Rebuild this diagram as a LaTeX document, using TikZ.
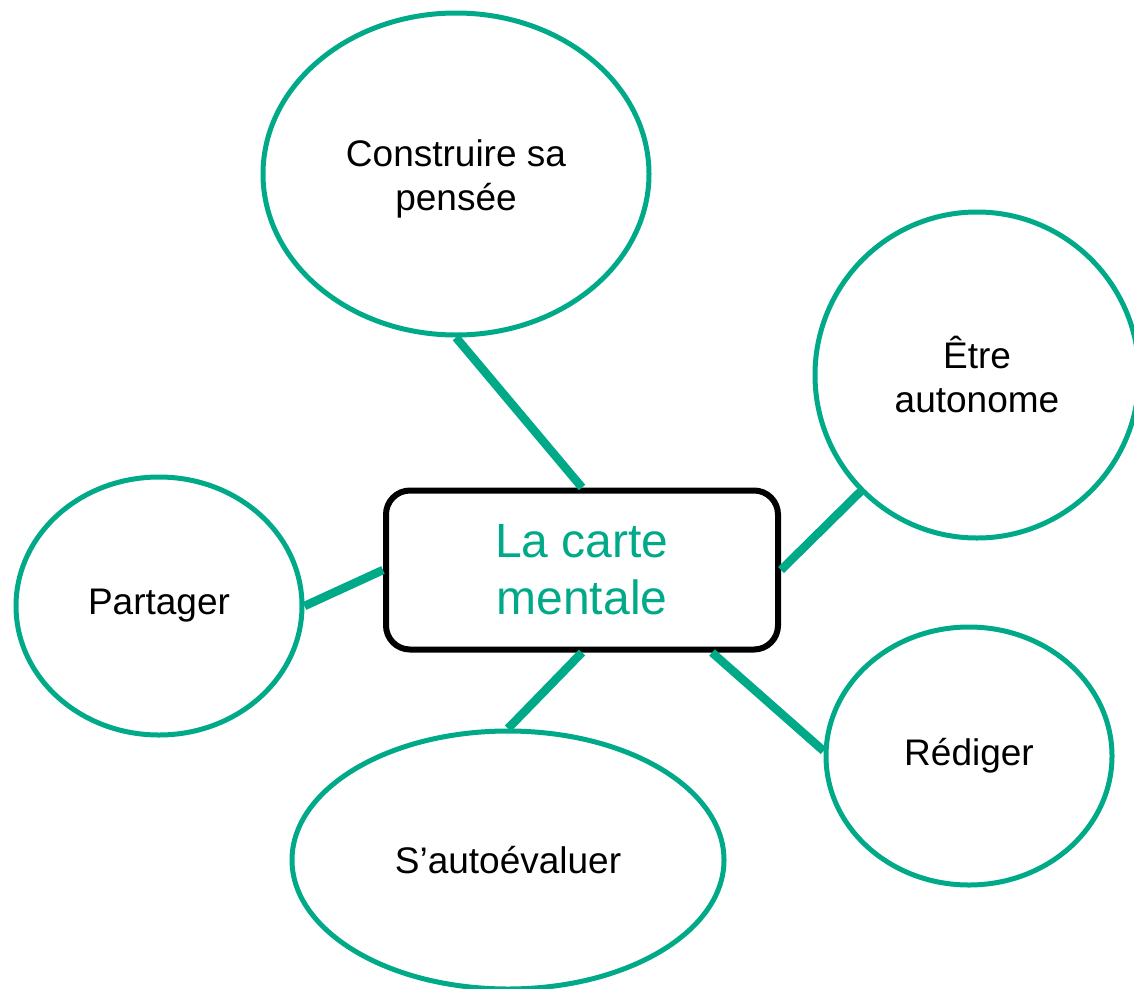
\documentclass[tikz,border=0pt]{standalone}
\usepackage{fontspec}
\setmainfont{Liberation Sans}
\usetikzlibrary{shapes.geometric}
\definecolor{mapteal}{RGB}{0,170,136}
\begin{document}
\begin{tikzpicture}[x=1pt,y=-1pt,
  bubble/.style={ellipse, draw=mapteal, line width=5pt, inner sep=0pt, align=center,
    font=\fontsize{37}{44}\selectfont},
  hub/.style={rectangle, rounded corners=24pt, draw=black, line width=6pt,
    minimum width=392pt, minimum height=159pt, inner sep=0pt, align=center,
    text=mapteal, font=\fontsize{48}{57}\selectfont},
  link/.style={draw=mapteal, line width=8.5pt}]
\useasboundingbox (0,0) rectangle (1134,988);
\node[hub] (hub) at (582,570) {La carte\\mentale};
\node[bubble, minimum width=386pt, minimum height=322pt] (pensee) at (456,174)
  {\raisebox{-6pt}[\height][\depth]{\begin{tabular}{@{}c@{}}Construire sa\\pensée\end{tabular}}};
\node[bubble, minimum width=324pt, minimum height=326pt] (auto) at (977,375) {Être\\autonome};
\node[bubble, minimum width=286pt, minimum height=258pt] (part) at (159,606) {Partager};
\node[bubble, minimum width=432pt, minimum height=258pt] (eval) at (508,860) {S’autoévaluer};
\node[bubble, minimum width=286pt, minimum height=258pt] (redig) at (969,756) {Rédiger};
\coordinate (hubse) at ([xshift=130pt]hub.south);
\draw[link] (pensee.south) -- (hub.north);
\draw[link] (auto.225) -- (hub.east);
\draw[link] (part.east) -- (hub.west);
\draw[link] (hub.south) -- (eval.north);
\draw[link] (hubse) -- (redig.178);
\end{tikzpicture}
\end{document}
